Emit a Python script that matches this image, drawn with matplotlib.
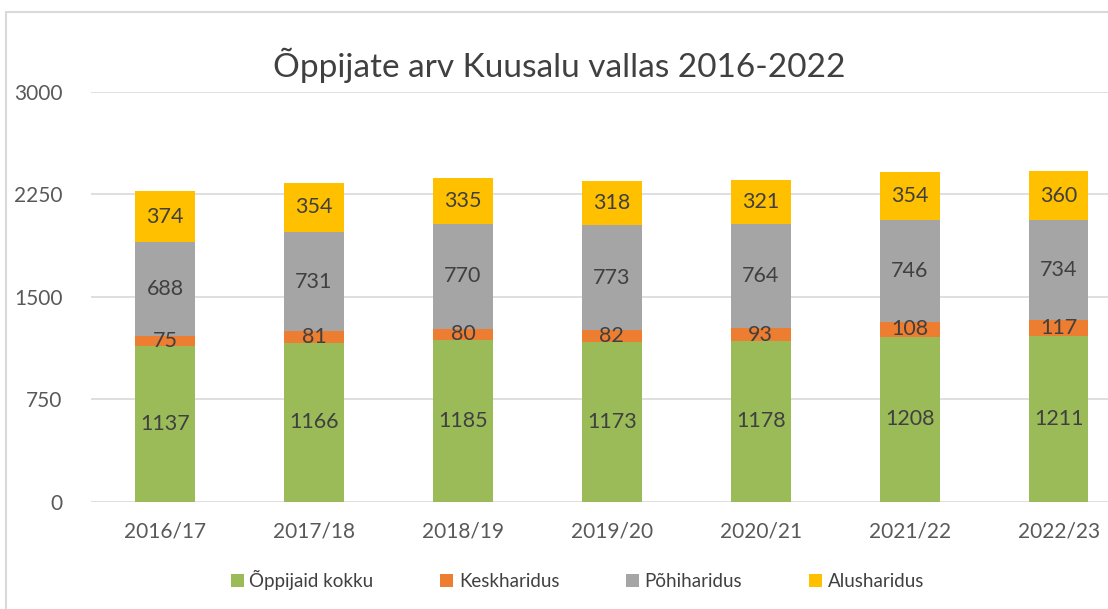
import matplotlib.pyplot as plt
from matplotlib.patches import Rectangle
import numpy as np

plt.rcParams['font.family'] = ['Lato', 'DejaVu Sans']

years = ["2016/17", "2017/18", "2018/19", "2019/20", "2020/21", "2021/22", "2022/23"]
oppijaid = [1137, 1166, 1185, 1173, 1178, 1208, 1211]
kesk = [75, 81, 80, 82, 93, 108, 117]
pohi = [688, 731, 770, 773, 764, 746, 734]
alus = [374, 354, 335, 318, 321, 354, 360]

series = [
    ("Õppijaid kokku", oppijaid, "#9bbb59"),
    ("Keskharidus", kesk, "#ed7d31"),
    ("Põhiharidus", pohi, "#a5a5a5"),
    ("Alusharidus", alus, "#ffc000"),
]

fig = plt.figure(figsize=(11.08, 6.09), dpi=100)
ax = fig.add_axes([0.0817, 0.176, 0.941, 0.673])

# chart frame
fig.patches.append(Rectangle((0.005, -0.1), 1.1, 1.08, transform=fig.transFigure,
                             fill=False, edgecolor="#d9d9d9", linewidth=1.5))

x = np.arange(len(years))
bottom = np.zeros(len(years))
for name, vals, col in series:
    bars = ax.bar(x, vals, 0.40, bottom=bottom, color=col, label=name)
    ax.bar_label(bars, labels=[str(v) for v in vals], label_type="center",
                 fontsize=15.5, color="#404040")
    bottom += np.array(vals)

ax.set_ylim(0, 3000)
ax.set_xlim(-0.5, len(years) - 0.5)
ax.set_yticks([0, 750, 1500, 2250, 3000])
ax.set_xticks(x)
ax.set_xticklabels(years)
ax.tick_params(length=0, labelsize=15, colors="#595959", pad=14)
ax.tick_params(axis="y", pad=20)
ax.grid(axis="y", color="#d9d9d9", linewidth=1.2)
ax.set_axisbelow(True)
for s in ax.spines.values():
    s.set_visible(False)

fig.text(0.505, 0.893, "Õppijate arv Kuusalu vallas 2016-2022", ha="center",
         va="center", fontsize=24, color="#404040")

fig.legend(*ax.get_legend_handles_labels(), loc="center",
           bbox_to_anchor=(0.521, 0.048), ncol=4, frameon=False,
           fontsize=13.5, handlelength=0.7, handleheight=0.7, columnspacing=3.55,
           handletextpad=0.3, labelcolor="#404040")

fig.savefig("out.png", dpi=100)
